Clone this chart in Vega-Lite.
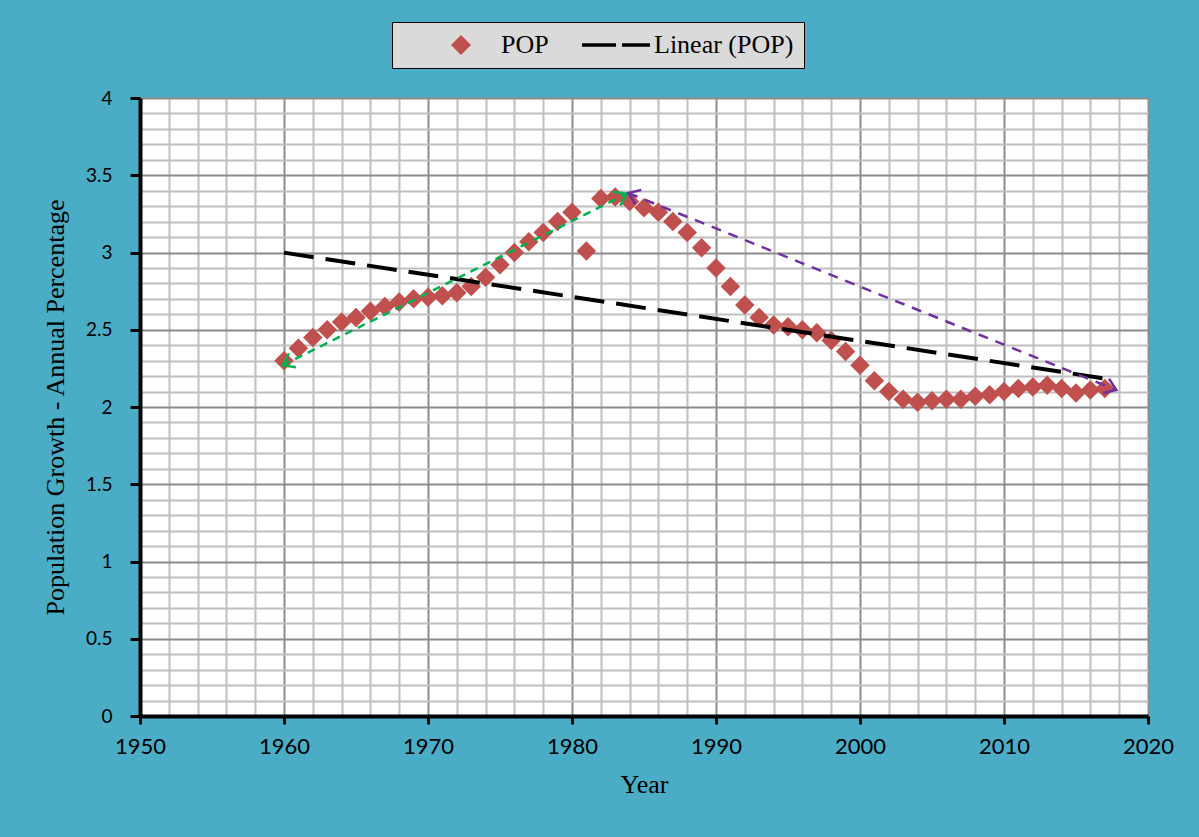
{
  "$schema": "https://vega.github.io/schema/vega-lite/v6.json",
  "width": 1008,
  "height": 618,
  "autosize": {"type": "none"},
  "padding": {"left": 140, "top": 98, "right": 51, "bottom": 121},
  "background": "#4BACC6",
  "view": {"fill": "white", "stroke": null},
  "config": {"font": "Lato"},
  "datasets": {
    "pop": [
      {"year": 1960, "value": 2.30, "series": "POP"},
      {"year": 1961, "value": 2.38, "series": "POP"},
      {"year": 1962, "value": 2.45, "series": "POP"},
      {"year": 1963, "value": 2.50, "series": "POP"},
      {"year": 1964, "value": 2.55, "series": "POP"},
      {"year": 1965, "value": 2.58, "series": "POP"},
      {"year": 1966, "value": 2.62, "series": "POP"},
      {"year": 1967, "value": 2.65, "series": "POP"},
      {"year": 1968, "value": 2.68, "series": "POP"},
      {"year": 1969, "value": 2.70, "series": "POP"},
      {"year": 1970, "value": 2.71, "series": "POP"},
      {"year": 1971, "value": 2.72, "series": "POP"},
      {"year": 1972, "value": 2.74, "series": "POP"},
      {"year": 1973, "value": 2.78, "series": "POP"},
      {"year": 1974, "value": 2.84, "series": "POP"},
      {"year": 1975, "value": 2.92, "series": "POP"},
      {"year": 1976, "value": 3.00, "series": "POP"},
      {"year": 1977, "value": 3.07, "series": "POP"},
      {"year": 1978, "value": 3.13, "series": "POP"},
      {"year": 1979, "value": 3.20, "series": "POP"},
      {"year": 1980, "value": 3.26, "series": "POP"},
      {"year": 1981, "value": 3.01, "series": "POP"},
      {"year": 1982, "value": 3.35, "series": "POP"},
      {"year": 1983, "value": 3.36, "series": "POP"},
      {"year": 1984, "value": 3.33, "series": "POP"},
      {"year": 1985, "value": 3.29, "series": "POP"},
      {"year": 1986, "value": 3.26, "series": "POP"},
      {"year": 1987, "value": 3.20, "series": "POP"},
      {"year": 1988, "value": 3.13, "series": "POP"},
      {"year": 1989, "value": 3.03, "series": "POP"},
      {"year": 1990, "value": 2.90, "series": "POP"},
      {"year": 1991, "value": 2.78, "series": "POP"},
      {"year": 1992, "value": 2.66, "series": "POP"},
      {"year": 1993, "value": 2.58, "series": "POP"},
      {"year": 1994, "value": 2.53, "series": "POP"},
      {"year": 1995, "value": 2.52, "series": "POP"},
      {"year": 1996, "value": 2.50, "series": "POP"},
      {"year": 1997, "value": 2.48, "series": "POP"},
      {"year": 1998, "value": 2.43, "series": "POP"},
      {"year": 1999, "value": 2.36, "series": "POP"},
      {"year": 2000, "value": 2.27, "series": "POP"},
      {"year": 2001, "value": 2.17, "series": "POP"},
      {"year": 2002, "value": 2.10, "series": "POP"},
      {"year": 2003, "value": 2.05, "series": "POP"},
      {"year": 2004, "value": 2.03, "series": "POP"},
      {"year": 2005, "value": 2.04, "series": "POP"},
      {"year": 2006, "value": 2.05, "series": "POP"},
      {"year": 2007, "value": 2.05, "series": "POP"},
      {"year": 2008, "value": 2.07, "series": "POP"},
      {"year": 2009, "value": 2.08, "series": "POP"},
      {"year": 2010, "value": 2.10, "series": "POP"},
      {"year": 2011, "value": 2.12, "series": "POP"},
      {"year": 2012, "value": 2.13, "series": "POP"},
      {"year": 2013, "value": 2.14, "series": "POP"},
      {"year": 2014, "value": 2.12, "series": "POP"},
      {"year": 2015, "value": 2.09, "series": "POP"},
      {"year": 2016, "value": 2.11, "series": "POP"},
      {"year": 2017, "value": 2.12, "series": "POP"}
    ],
    "arrows": [
      {"arrow": "green", "end": "a", "year": 1959.9, "value": 2.27},
      {"arrow": "green", "end": "b", "year": 1983.8, "value": 3.38},
      {"arrow": "purple", "end": "a", "year": 1983.9, "value": 3.385},
      {"arrow": "purple", "end": "b", "year": 2017.8, "value": 2.11}
    ]
  },
  "encoding": {
    "x": {
      "field": "year",
      "type": "quantitative",
      "scale": {"domain": [1950, 2020], "nice": false, "zero": false},
      "axis": {
        "title": "Year",
        "values": [1950,1952,1954,1956,1958,1960,1962,1964,1966,1968,1970,1972,1974,1976,1978,1980,1982,1984,1986,1988,1990,1992,1994,1996,1998,2000,2002,2004,2006,2008,2010,2012,2014,2016,2018,2020],
        "format": "d",
        "labelExpr": "datum.value % 10 === 0 ? datum.label : ''",
        "labelOverlap": false,
        "labelFlush": false,
        "labelBound": false,
        "grid": true,
        "gridColor": {"condition": {"test": "datum.value % 10 === 0", "value": "#8C8C8C"}, "value": "#BFBFBF"},
        "gridWidth": 2,
        "gridOpacity": 1,
        "ticks": true,
        "tickOpacity": {"condition": {"test": "datum.value % 10 === 0", "value": 1}, "value": 0},
        "tickColor": "black",
        "tickSize": 8,
        "tickWidth": 3,
        "domainColor": "black",
        "domainWidth": 4,
        "labelFont": "Lato",
        "labelFontSize": 22,
        "labelColor": "black",
        "labelPadding": 12,
        "titleFont": "Liberation Serif",
        "titleFontSize": 26,
        "titleFontWeight": "normal",
        "titleColor": "black",
        "titlePadding": 14
      }
    },
    "y": {
      "field": "value",
      "type": "quantitative",
      "scale": {"domain": [0, 4], "nice": false, "zero": true},
      "axis": {
        "title": "Population Growth - Annual Percentage",
        "values": [0,0.1,0.2,0.3,0.4,0.5,0.6,0.7,0.8,0.9,1,1.1,1.2,1.3,1.4,1.5,1.6,1.7,1.8,1.9,2,2.1,2.2,2.3,2.4,2.5,2.6,2.7,2.8,2.9,3,3.1,3.2,3.3,3.4,3.5,3.6,3.7,3.8,3.9,4],
        "labelExpr": "abs(datum.value*2 - round(datum.value*2)) < 0.001 ? '' + round(datum.value*10)/10 : ''",
        "labelOverlap": false,
        "labelFlush": false,
        "labelBound": false,
        "grid": true,
        "gridColor": {"condition": {"test": "abs(datum.value*2 - round(datum.value*2)) < 0.001", "value": "#8C8C8C"}, "value": "#BFBFBF"},
        "gridWidth": 2,
        "gridOpacity": 1,
        "tickOpacity": {"condition": {"test": "abs(datum.value*2 - round(datum.value*2)) < 0.001", "value": 1}, "value": 0},
        "tickColor": "black",
        "tickSize": 10,
        "tickWidth": 3,
        "domainColor": "black",
        "domainWidth": 4,
        "labelFont": "Lato",
        "labelFontSize": 19,
        "labelColor": "black",
        "labelPadding": 18,
        "titleFont": "Liberation Serif",
        "titleFontSize": 26,
        "titleFontWeight": "normal",
        "titleColor": "black",
        "titlePadding": 17
      }
    }
  },
  "layer": [
    {
      "data": {"name": "pop"},
      "mark": {"type": "point", "filled": true, "size": 380, "opacity": 1},
      "encoding": {
        "color": {
          "field": "series",
          "type": "nominal",
          "scale": {"domain": ["POP", "Linear (POP)"], "range": ["#C0504D", "#000000"]},
          "legend": {
            "title": null,
            "orient": "none",
            "legendX": 252,
            "legendY": -76,
            "direction": "horizontal",
            "fillColor": "#DADADA",
            "strokeColor": "black",
            "padding": 10,
            "symbolOffset": 46,
            "symbolSize": 400,
            "symbolStrokeWidth": 0,
            "labelOffset": 27,
            "columnPadding": 6,
            "labelFont": "Liberation Serif",
            "labelFontSize": 26,
            "labelColor": "black",
            "labelExpr": "datum.label == 'Linear (POP)' ? datum.label + '\u00a0\u00a0\u00a0' : datum.label",
            "encode": {
              "legend": {"update": {"strokeWidth": {"value": 2}}}
            }
          }
        },
        "shape": {
          "field": "series",
          "type": "nominal",
          "scale": {"domain": ["POP", "Linear (POP)"], "range": ["diamond", "M-3.2,-0.18H0.2V0.18H-3.2Z M0.8,-0.18H3.6V0.18H0.8Z"]},
          "legend": null
        }
      }
    },
    {
      "data": {"name": "pop"},
      "transform": [{"regression": "value", "on": "year"}],
      "mark": {"type": "line", "color": "black", "strokeWidth": 4, "strokeDash": [30, 12]}
    },
    {
      "data": {"name": "arrows"},
      "transform": [{"filter": "datum.arrow === 'green'"}],
      "mark": {"type": "line", "color": "#00B050", "strokeWidth": 2.5, "strokeDash": [8, 6]}
    },
    {
      "data": {"name": "arrows"},
      "transform": [{"filter": "datum.arrow === 'purple'"}],
      "mark": {"type": "line", "color": "#7030A0", "strokeWidth": 2.5, "strokeDash": [10, 8]}
    },
    {
      "data": {"name": "arrows"},
      "transform": [{"filter": "datum.arrow === 'green' && datum.end === 'a'"}],
      "mark": {"type": "point", "shape": "M-1,-0.7L0,0L-1,0.7", "filled": false, "stroke": "#00B050", "strokeWidth": 2.5, "size": 484, "angle": 153.5, "opacity": 1}
    },
    {
      "data": {"name": "arrows"},
      "transform": [{"filter": "datum.arrow === 'green' && datum.end === 'b'"}],
      "mark": {"type": "point", "shape": "M-1,-0.7L0,0L-1,0.7", "filled": false, "stroke": "#00B050", "strokeWidth": 2.5, "size": 484, "angle": 333.5, "opacity": 1}
    },
    {
      "data": {"name": "arrows"},
      "transform": [{"filter": "datum.arrow === 'purple' && datum.end === 'a'"}],
      "mark": {"type": "point", "shape": "M-1,-0.7L0,0L-1,0.7", "filled": false, "stroke": "#7030A0", "strokeWidth": 2.5, "size": 484, "angle": 201.9, "opacity": 1}
    },
    {
      "data": {"name": "arrows"},
      "transform": [{"filter": "datum.arrow === 'purple' && datum.end === 'b'"}],
      "mark": {"type": "point", "shape": "M-1,-0.7L0,0L-1,0.7", "filled": false, "stroke": "#7030A0", "strokeWidth": 2.5, "size": 484, "angle": 21.9, "opacity": 1}
    }
  ]
}
